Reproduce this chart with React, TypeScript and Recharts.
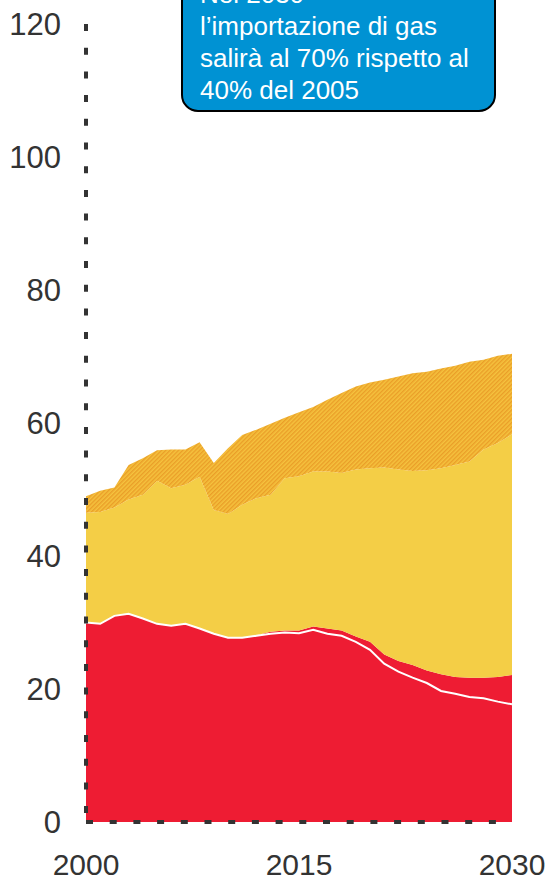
import React from 'react';
import { ComposedChart, Area, Line, XAxis, YAxis } from 'recharts';

const years = [2000, 2001, 2002, 2003, 2004, 2005, 2006, 2007, 2008, 2009, 2010, 2011, 2012, 2013, 2014, 2015, 2016, 2017, 2018, 2019, 2020, 2021, 2022, 2023, 2024, 2025, 2026, 2027, 2028, 2029, 2030];

// bottom red layer (below white line)
const seriesRedLower = [30.0, 29.8, 31.0, 31.3, 30.6, 29.8, 29.5, 29.8, 29.1, 28.3, 27.7, 27.7, 28.0, 28.3, 28.5, 28.4, 28.9, 28.3, 28.0, 27.1, 25.9, 23.8, 22.6, 21.7, 20.9, 19.7, 19.3, 18.8, 18.6, 18.1, 17.7];
// red layer above white line
const seriesRedUpper = [0, 0, 0, 0, 0, 0, 0, 0, 0, 0, 0, 0, 0.1, 0.3, 0.3, 0.4, 0.5, 0.8, 0.8, 0.8, 1.2, 1.4, 1.6, 1.9, 1.9, 2.5, 2.5, 2.9, 3.1, 3.7, 4.4];
// yellow layer
const seriesYellow = [16.5, 16.8, 16.3, 17.2, 18.6, 21.5, 20.7, 20.9, 22.8, 18.6, 18.6, 20.0, 20.6, 20.6, 22.9, 23.2, 23.3, 23.6, 23.7, 25.1, 26.1, 28.1, 28.8, 29.2, 30.1, 31.0, 31.9, 32.5, 34.3, 35.2, 36.2];
// hatched orange layer
const seriesHatched = [2.5, 3.2, 3.0, 5.2, 5.5, 4.6, 5.8, 5.3, 5.2, 7.1, 9.9, 10.5, 10.3, 10.7, 9.1, 9.6, 9.7, 10.8, 12.0, 12.5, 12.9, 13.2, 14.0, 14.7, 14.8, 15.0, 14.9, 15.0, 13.5, 13.1, 12.1];

const xTicks = [2000, 2015, 2030];
const yTicks = [0, 20, 40, 60, 80, 100, 120];

const calloutLines = ['Nel 2030', 'l\u2019importazione di gas', 'salirà al 70% rispetto al', '40% del 2005'];

const data = years.map((y, i) => ({
  year: y,
  redLower: seriesRedLower[i],
  redUpper: seriesRedUpper[i],
  yellow: seriesYellow[i],
  hatched: seriesHatched[i],
  line: seriesRedLower[i],
}));

const FONT = '"Liberation Sans", Arial, Helvetica, sans-serif';
const AXIS_COLOR = '#333333';
const axisLineStyle = { stroke: AXIS_COLOR, strokeWidth: 4, strokeDasharray: '7 16.7' };

const XTick = (props: any) => (
  <text x={props.x} y={props.y + 53} textAnchor="middle" fill={AXIS_COLOR} fontSize={30} fontFamily={FONT}>
    {props.payload.value}
  </text>
);

const YTick = (props: any) => (
  <text x={props.x - 25} y={props.y + 11} textAnchor="end" fill={AXIS_COLOR} fontSize={31} fontFamily={FONT}>
    {props.payload.value}
  </text>
);

export default function App() {
  return (
    <div style={{ position: 'absolute', left: 0, top: 0, width: 550, height: 882, background: '#fff', overflow: 'hidden' }}>
      <ComposedChart width={550} height={882} data={data} margin={{ top: 24, right: 38, bottom: 0, left: 0 }}>
        <defs>
          <pattern id="hatch" width="3" height="3" patternUnits="userSpaceOnUse" patternTransform="rotate(45)">
            <rect width="3" height="3" fill="#F5C23E" />
            <rect width="1.4" height="3" fill="#EA9E28" />
          </pattern>
        </defs>
        <XAxis
          dataKey="year"
          type="number"
          domain={[2000, 2030]}
          ticks={xTicks}
          interval={0}
          height={60}
          tickLine={false}
          tickSize={0}
          tickMargin={0}
          axisLine={axisLineStyle}
          tick={XTick}
        />
        <YAxis
          type="number"
          domain={[0, 120]}
          ticks={yTicks}
          interval={0}
          width={86}
          tickLine={false}
          tickSize={0}
          tickMargin={0}
          axisLine={axisLineStyle}
          tick={YTick}
        />
        <Area type="linear" dataKey="redLower" stackId="s" fill="#EE1C33" fillOpacity={1} stroke="none" isAnimationActive={false} />
        <Area type="linear" dataKey="redUpper" stackId="s" fill="#EE1C33" fillOpacity={1} stroke="none" isAnimationActive={false} />
        <Area type="linear" dataKey="yellow" stackId="s" fill="#F4CE46" fillOpacity={1} stroke="none" isAnimationActive={false} />
        <Area type="linear" dataKey="hatched" stackId="s" fill="url(#hatch)" fillOpacity={1} stroke="none" isAnimationActive={false} />
        <Line type="linear" dataKey="line" stroke="#ffffff" strokeWidth={2} dot={false} activeDot={false} isAnimationActive={false} />
      </ComposedChart>
      <div
        style={{
          position: 'absolute',
          left: 181,
          top: -40,
          width: 315,
          height: 152,
          boxSizing: 'border-box',
          background: '#0092D3',
          border: '2px solid #000',
          borderRadius: 17,
        }}
      />
      <div
        style={{
          position: 'absolute',
          left: 200,
          top: -22,
          fontFamily: FONT,
          fontSize: 26,
          lineHeight: '32px',
          color: '#ffffff',
          whiteSpace: 'pre',
        }}
      >
        {calloutLines.map((l, i) => (
          <div key={i}>{l}</div>
        ))}
      </div>
    </div>
  );
}
